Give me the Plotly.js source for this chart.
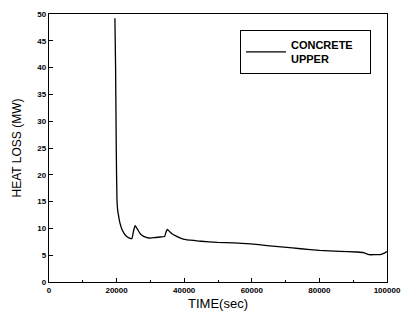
<!DOCTYPE html>
<html>
<head>
<meta charset="utf-8">
<script src="https://cdn.plot.ly/plotly-3.0.1.min.js"></script>
<style>html,body{margin:0;padding:0;background:#fff;}#chart{width:402px;height:326px;}</style>
</head>
<body>
<div id="chart"></div>
<script>
// Time in seconds
const timeSec = [19500, 19700, 19900, 20100, 20300, 20600, 21000, 21600, 22300, 23000, 23800, 24500, 25000, 25500, 26200, 27000, 28000, 29000, 30000, 31500, 33000, 34200, 34600, 35000, 35700, 36400, 37500, 38900, 40500, 41800, 45000, 49800, 54700, 59600, 64500, 69500, 74500, 80000, 86000, 91000, 93000, 94700, 96500, 98000, 99200, 100000];
// Heat loss in MW
const heatLossMW = [49.2, 40.0, 25.0, 15.5, 13.5, 12.3, 11.0, 9.8, 9.0, 8.5, 8.2, 8.1, 9.5, 10.5, 9.8, 9.0, 8.5, 8.3, 8.2, 8.3, 8.4, 8.5, 9.3, 9.8, 9.4, 9.0, 8.6, 8.2, 7.9, 7.8, 7.6, 7.4, 7.3, 7.1, 6.8, 6.5, 6.2, 5.9, 5.7, 5.6, 5.5, 5.1, 5.1, 5.1, 5.4, 5.7];
const seriesLines = ["CONCRETE", "UPPER"];
const xTicks = [0, 20000, 40000, 60000, 80000, 100000];
const yTicks = [0, 5, 10, 15, 20, 25, 30, 35, 40, 45, 50];

const trace = {
  x: timeSec, y: heatLossMW, type: 'scatter', mode: 'lines',
  line: {color: '#000', width: 1.3, shape: 'spline', smoothing: 0.5},
  name: seriesLines[0] + '\u00a0\u00a0\u00a0\u00a0<br>' + seriesLines[1], showlegend: true
};
const tickFont = {family: 'Liberation Sans, Arial, sans-serif', size: 8, color: '#000', weight: 'bold'};
const layout = {
  width: 402, height: 326,
  margin: {l: 49, r: 15, t: 14, b: 44},
  paper_bgcolor: '#fff', plot_bgcolor: '#fff',
  font: {family: 'Liberation Sans, Arial, sans-serif', color: '#000'},
  xaxis: {
    range: [0, 100000], tickvals: xTicks, ticktext: xTicks.map(String),
    ticks: 'inside', ticklen: 4, tickwidth: 1, tickcolor: '#000',
    showline: true, linecolor: '#000', linewidth: 1.3, mirror: true,
    showgrid: false, zeroline: false, tickfont: tickFont,
    minor: {ticks: 'inside', ticklen: 2, tickcolor: '#000', dtick: 10000},
    title: {text: 'TIME(sec)', font: {size: 13, color: '#000'}, standoff: 5}
  },
  yaxis: {
    range: [0, 50], tickvals: yTicks, ticktext: yTicks.map(String),
    ticks: 'inside', ticklen: 4, tickwidth: 1, tickcolor: '#000',
    showline: true, linecolor: '#000', linewidth: 1.3, mirror: true,
    showgrid: false, zeroline: false, tickfont: tickFont,
    title: {text: 'HEAT LOSS (MW)', font: {size: 12, color: '#000'}, standoff: 13}
  },
  showlegend: true,
  legend: {
    x: 0.565, y: 0.94, xanchor: 'left', yanchor: 'top',
    bgcolor: '#fff', bordercolor: '#000', borderwidth: 1,
    font: {size: 11, color: '#000', weight: 'bold'},
    itemwidth: 40
  }
};
Plotly.newPlot('chart', [trace], layout, {displayModeBar: false, staticPlot: true});
</script>
</body>
</html>
